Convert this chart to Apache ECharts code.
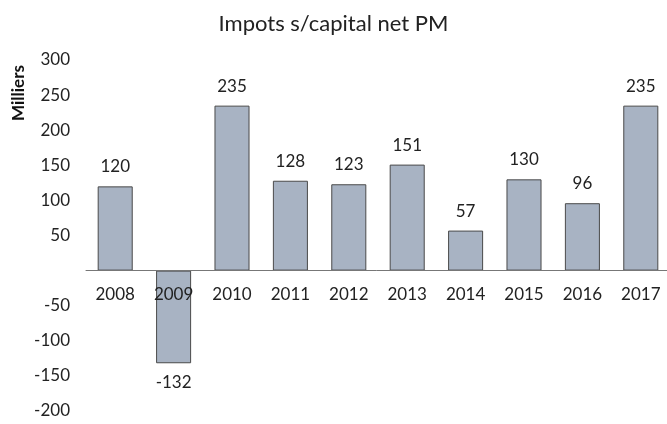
<!DOCTYPE html>
<html>
<head>
<meta charset="utf-8">
<script src="https://cdn.jsdelivr.net/npm/echarts@6/dist/echarts.min.js"></script>
<style>
  html, body { margin: 0; padding: 0; background: #fff; }
  #chart { width: 667px; height: 424px; }
</style>
</head>
<body>
<div id="chart"></div>
<script>
const years = ['2008', '2009', '2010', '2011', '2012', '2013', '2014', '2015', '2016', '2017']
const values = [120, -132, 235, 128, 123, 151, 57, 130, 96, 235]
const titleText = 'Impots s/capital net PM'
const unitText = 'Milliers'

const yMin = -200
const yMax = 300
const gridTop = 60
const gridBottom = 13
const chartH = 424

const myEcharts = echarts.init(document.getElementById('chart'))

const barData = values.map((v) => ({
  value: v,
  label: { position: v < 0 ? 'bottom' : 'top' } // négatif : étiquette sous la barre
}))

// l'axe des catégories est remonté jusqu'à la ligne du zéro
const plotH = chartH - gridTop - gridBottom
const zeroOffset = -plotH * (0 - yMin) / (yMax - yMin)

myEcharts.setOption({
  animation: false,
  title: {
    text: titleText,
    left: 'center',
    top: 8,
    textStyle: {
      fontFamily: 'Lato',
      fontWeight: 'normal',
      fontSize: 22,
      color: '#222'
    }
  },
  graphic: [{
    type: 'text',
    x: 19,
    y: 93,
    rotation: Math.PI / 2,
    style: {
      text: unitText,
      fontFamily: 'Lato',
      fontWeight: 'bold',
      fontSize: 17,
      fill: '#111',
      align: 'center',
      verticalAlign: 'middle'
    }
  }],
  grid: {
    left: 86,
    right: -3,
    top: gridTop,
    bottom: gridBottom,
    outerBoundsMode: 'none'
  },
  xAxis: {
    type: 'category',
    data: years,
    z: 5,
    offset: zeroOffset,
    axisTick: { show: false },
    axisLine: {
      show: true,
      onZero: false,
      lineStyle: { color: '#777', width: 1 }
    },
    axisLabel: {
      fontFamily: 'Lato',
      fontSize: 17,
      color: '#222',
      margin: 15
    }
  },
  yAxis: {
    type: 'value',
    min: yMin,
    max: yMax,
    interval: 50,
    splitLine: { show: false },
    axisLine: { show: false },
    axisTick: { show: false },
    axisLabel: {
      fontFamily: 'Lato',
      fontSize: 17,
      color: '#222',
      margin: 16,
      formatter: (v) => (v === 0 ? '' : v)
    }
  },
  series: [{
    type: 'bar',
    barWidth: '60%',
    data: barData,
    itemStyle: {
      color: '#a8b3c3',
      borderColor: '#4a4a4a',
      borderWidth: 1
    },
    label: {
      show: true,
      distance: 11,
      fontFamily: 'Lato',
      fontSize: 17,
      color: '#222'
    }
  }]
})
</script>
</body>
</html>
